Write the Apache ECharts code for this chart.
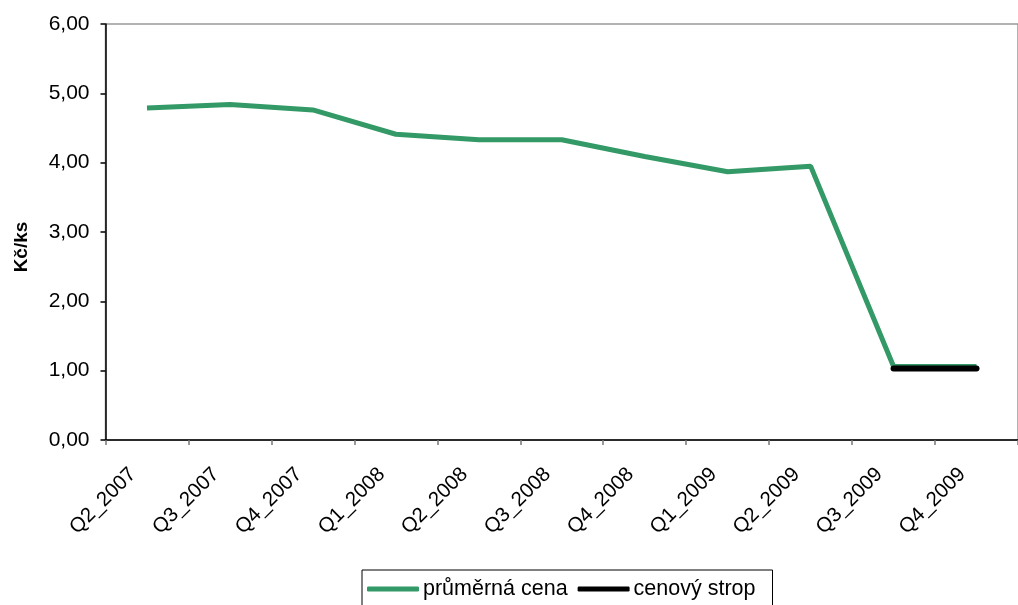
<!DOCTYPE html>
<html><head><meta charset="utf-8">
<script src="https://cdn.jsdelivr.net/npm/echarts@6/dist/echarts.min.js"></script>
<style>html,body{margin:0;padding:0;background:#fff;overflow:hidden}#c{width:1018px;height:605px}</style>
</head><body><div id="c"></div>
<script>
const categories = ['Q2_2007','Q3_2007','Q4_2007','Q1_2008','Q2_2008','Q3_2008','Q4_2008','Q1_2009','Q2_2009','Q3_2009','Q4_2009'];
const prumernaCena = [4.79, 4.84, 4.76, 4.41, 4.33, 4.33, 4.09, 3.87, 3.95, 1.06, 1.06];
const cenovyStrop = [null, null, null, null, null, null, null, null, null, 1.03, 1.03];
const yTicks = [0, 1, 2, 3, 4, 5, 6];

const chart = echarts.init(document.getElementById('c'));
const font = 'Liberation Sans, Arial, sans-serif';
chart.setOption({
  animation: false,
  grid: { left: 105.5, width: 924, top: 24, bottom: 165, show: true, borderColor: '#999', borderWidth: 1.5 },
  xAxis: {
    type: 'category', data: categories, boundaryGap: true,
    axisLine: { lineStyle: { color: '#000', width: 1.5 } },
    axisTick: { show: true, length: 5, lineStyle: { color: '#777', width: 1.5 } },
    axisLabel: { rotate: 45, color: '#000', fontSize: 20.5, fontFamily: font, margin: 17, padding: [0, 20, 0, 0] },
    splitLine: { show: false }
  },
  yAxis: {
    type: 'value', min: yTicks[0], max: yTicks[yTicks.length - 1], interval: 1,
    name: 'Kč/ks', nameLocation: 'middle', nameGap: 74, nameRotate: 90,
    nameTextStyle: { fontSize: 19, fontWeight: 'bold', color: '#000', fontFamily: font, padding: [0, 30, 0, 0] },
    axisLine: { show: true, lineStyle: { color: '#000', width: 1.5 } },
    axisTick: { show: true, length: 5, lineStyle: { color: '#000', width: 1.5 } },
    axisLabel: { color: '#000', fontSize: 21, fontFamily: font, margin: 16,
      formatter: v => v.toFixed(2).replace('.', ',') },
    splitLine: { show: false }
  },
  legend: {
    top: 570, left: 362, itemWidth: 52, itemHeight: 5, itemGap: 10,
    borderColor: '#000', borderWidth: 1, padding: [8, 17, 8, 5],
    textStyle: { fontSize: 21.5, color: '#000', fontFamily: font, padding: [0, 0, 0, -1] },
    icon: 'roundRect',
    data: ['průměrná cena', 'cenový strop']
  },
  series: [
    { name: 'průměrná cena', type: 'line', data: prumernaCena, symbol: 'none',
      lineStyle: { color: '#339966', width: 5 }, itemStyle: { color: '#339966' } },
    { name: 'cenový strop', type: 'line', data: cenovyStrop, symbol: 'none',
      lineStyle: { color: '#000', width: 6, cap: 'round' }, itemStyle: { color: '#000' } }
  ]
});
</script></body></html>
